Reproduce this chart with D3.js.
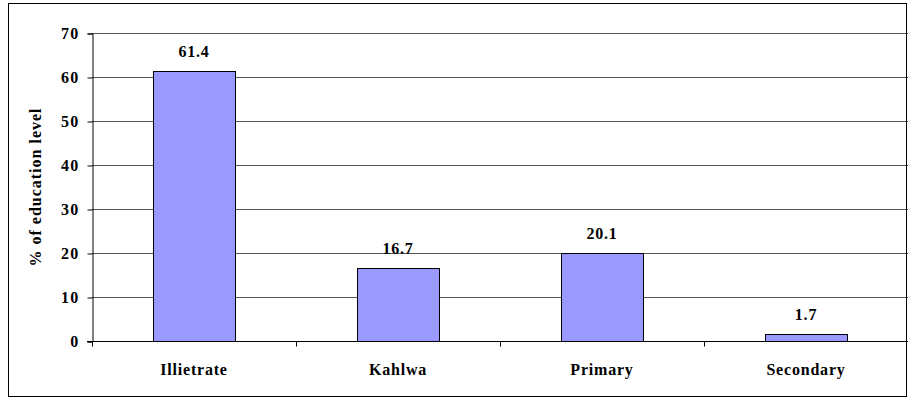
<!DOCTYPE html>
<html>
<head>
<meta charset="utf-8">
<script src="https://cdn.jsdelivr.net/npm/d3@7"></script>
<style>
  body { margin: 0; background: #fff; }
  text { font-family: "Liberation Serif", "Times New Roman", serif; font-weight: bold; fill: #000; }
</style>
</head>
<body>
<svg id="chart"></svg>
<script>
var categories = ["Illietrate", "Kahlwa", "Primary", "Secondary"];
var values = [61.4, 16.7, 20.1, 1.7];
var yTicks = [0, 10, 20, 30, 40, 50, 60, 70];

var width = 909, height = 398;
var margin = {top: 33, right: 1, bottom: 57, left: 92};

var svg = d3.select("#chart")
    .attr("width", width)
    .attr("height", height);

// outer frame
svg.append("rect")
    .attr("x", 8.5).attr("y", 3.5)
    .attr("width", 898).attr("height", 393)
    .attr("fill", "none")
    .attr("stroke", "#000")
    .attr("stroke-width", 1);

var x = d3.scaleBand()
    .domain(categories)
    .range([margin.left, width - margin.right])
    .paddingInner(0.6)
    .paddingOuter(0.3);

var y = d3.scaleLinear()
    .domain([0, 70])
    .range([height - margin.bottom, margin.top]);

// grid lines
svg.append("g")
    .selectAll("line")
    .data(yTicks.slice(1))
    .enter().append("line")
    .attr("x1", margin.left).attr("x2", width - margin.right)
    .attr("y1", function(d) { return Math.round(y(d)) + 0.5; })
    .attr("y2", function(d) { return Math.round(y(d)) + 0.5; })
    .attr("stroke", "#555")
    .attr("stroke-width", 1);

// right edge of plot
svg.append("line")
    .attr("x1", width - margin.right - 1.5).attr("x2", width - margin.right - 1.5)
    .attr("y1", y(70)).attr("y2", y(0))
    .attr("stroke", "#000");

// bars
svg.append("g")
    .selectAll("rect")
    .data(values)
    .enter().append("rect")
    .attr("x", function(d, i) { return Math.round(x(categories[i])) + 0.5; })
    .attr("y", function(d) { return Math.round(y(d)) + 0.5; })
    .attr("width", Math.round(x.bandwidth()))
    .attr("height", function(d) { return Math.round(y(0)) - Math.round(y(d)); })
    .attr("fill", "#9999ff")
    .attr("stroke", "#000")
    .attr("stroke-width", 1);

// value labels
svg.append("g")
    .selectAll("text")
    .data(values)
    .enter().append("text")
    .attr("x", function(d, i) { return x(categories[i]) + x.bandwidth() / 2; })
    .attr("y", function(d) { return y(d) - 14; })
    .attr("text-anchor", "middle")
    .style("font-size", "16px")
    .style("letter-spacing", "0.8px")
    .text(function(d) { return d.toFixed(1); });

// y axis
var yAxis = d3.axisLeft(y)
    .tickValues(yTicks)
    .tickSize(5)
    .tickPadding(8)
    .tickFormat(d3.format("d"));

var gy = svg.append("g")
    .attr("transform", "translate(" + (margin.left + 0.5) + ",0.5)")
    .call(yAxis);
gy.select(".domain").attr("stroke", "#000");
gy.selectAll("text")
    .style("font-size", "16px")
    .style("letter-spacing", "1.2px")
    .style("font-family", "Liberation Serif");

// x axis baseline and ticks between categories
var xBase = Math.round(y(0)) + 0.5;
svg.append("line")
    .attr("x1", margin.left - 5).attr("x2", width - margin.right)
    .attr("y1", xBase).attr("y2", xBase)
    .attr("stroke", "#000");

var step = x.step();
var boundaries = d3.range(categories.length).map(function(i) {
    return x(categories[i]) - x.paddingOuter() * step;
});
svg.append("g")
    .selectAll("line")
    .data(boundaries)
    .enter().append("line")
    .attr("x1", function(d) { return Math.round(d) + 0.5; })
    .attr("x2", function(d) { return Math.round(d) + 0.5; })
    .attr("y1", xBase).attr("y2", xBase + 5)
    .attr("stroke", "#000");

// category labels
svg.append("g")
    .selectAll("text")
    .data(categories)
    .enter().append("text")
    .attr("x", function(d) { return x(d) + x.bandwidth() / 2; })
    .attr("y", 375)
    .attr("text-anchor", "middle")
    .style("font-size", "16px")
    .style("letter-spacing", "0.8px")
    .text(function(d) { return d; });

// y axis title
svg.append("text")
    .attr("transform", "translate(41," + ((y(0) + y(70)) / 2) + ") rotate(-90)")
    .attr("text-anchor", "middle")
    .style("font-size", "16px")
    .style("letter-spacing", "1px")
    .text("% of education level");
</script>
</body>
</html>
